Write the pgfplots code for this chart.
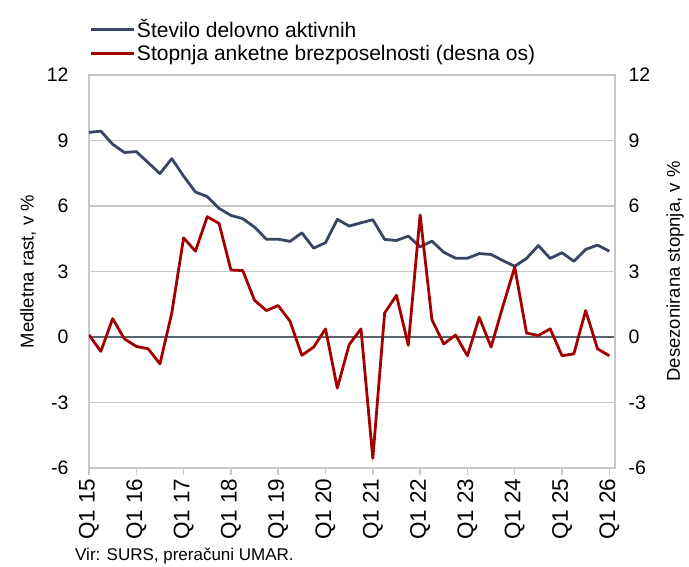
\documentclass[border=0pt]{standalone}
\usepackage{fontspec}
\setmainfont{Liberation Sans}
\usepackage{pgfplots}
\usepackage{pgfplotstable}
\pgfplotsset{compat=1.18}
\definecolor{empblue}{RGB}{56,70,100}
\definecolor{unred}{RGB}{165,0,0}
\definecolor{gridgray}{RGB}{200,200,200}
\definecolor{zerogray}{RGB}{90,100,110}
\pgfplotstableread{
x emp unemp
0 9.37 0.10
1 9.43 -0.66
2 8.83 0.84
3 8.45 -0.09
4 8.49 -0.43
5 7.99 -0.54
6 7.48 -1.23
7 8.17 1.10
8 7.37 4.54
9 6.64 3.93
10 6.43 5.51
11 5.89 5.20
12 5.57 3.07
13 5.42 3.04
14 5.03 1.68
15 4.48 1.21
16 4.48 1.44
17 4.38 0.72
18 4.77 -0.84
19 4.07 -0.46
20 4.32 0.37
21 5.39 -2.34
22 5.08 -0.35
23 5.23 0.37
24 5.37 -5.56
25 4.47 1.10
26 4.42 1.91
27 4.62 -0.38
28 4.13 5.59
29 4.39 0.79
30 3.88 -0.32
31 3.61 0.09
32 3.61 -0.86
33 3.82 0.90
34 3.78 -0.46
35 3.50 1.41
36 3.24 3.20
37 3.60 0.18
38 4.19 0.07
39 3.60 0.37
40 3.86 -0.86
41 3.47 -0.77
42 4.01 1.21
43 4.21 -0.54
44 3.93 -0.86
}\datatable
\begin{document}
\begin{tikzpicture}
\pgfplotsset{
  common/.style={
    scale only axis, width=526pt, height=393pt,
    xmin=0, xmax=44.48, ymin=-6, ymax=12,
    ytick={-6,-3,0,3,6,9,12},
    yticklabels={-6,-3,0,3,6,9,12},
    ytick style={draw=none},
    yticklabel style={font=\fontsize{19.5}{22}\selectfont},
    /pgf/number format/assume math mode=true,
  }
}
\begin{axis}[common, name=main,
  axis line style={draw=gridgray, line width=1.5pt},
  ymajorgrids, grid style={draw=gridgray, line width=1.5pt},
  xtick={0,4,...,44},
  xticklabels={Q1 15,Q1 16,Q1 17,Q1 18,Q1 19,Q1 20,Q1 21,Q1 22,Q1 23,Q1 24,Q1 25,Q1 26},
  xtick pos=lower, ytick pos=left,
  xtick style={draw=gridgray, line width=1.5pt},
  tick align=outside, major tick length=7pt,
  xticklabel style={rotate=90, anchor=east, font=\fontsize{22.5}{26}\selectfont},
  yticklabel style={xshift=-10pt},
  ylabel={Medletna rast, v \%},
  ylabel style={at={(axis description cs:-0.116,0.5)}, anchor=center, font=\fontsize{18.5}{22}\selectfont},
  legend image code/.code={\draw[#1] (0pt,0pt) -- (43pt,0pt);},
  legend style={at={(axis description cs:0,1)}, anchor=south west, xshift=0pt, yshift=11pt,
    draw=none, fill=none, inner sep=0pt, row sep=2pt,
    font=\fontsize{21}{24}\selectfont, cells={anchor=west}},
]
\addplot[draw=zerogray, line width=2pt, forget plot] coordinates {(0,0) (44.48,0)};
\addplot[empblue, line width=2.8pt, line join=round] table[x=x, y=emp] {\datatable};
\addlegendentry{Število delovno aktivnih}
\addlegendimage{unred, line width=2.8pt}
\addlegendentry{Stopnja anketne brezposelnosti (desna os)}
\end{axis}
\begin{axis}[common,
  axis x line=none, axis y line*=right,
  axis line style={draw=gridgray, line width=1.5pt},
  yticklabel style={xshift=10pt},
  ylabel={Desezonirana stopnja, v \%},
  ylabel style={at={(axis description cs:1.114,0.5)}, anchor=center, rotate=0, font=\fontsize{18.5}{22}\selectfont},
]
\addplot[unred, line width=2.8pt, line join=round] table[x=x, y=unemp] {\datatable};
\end{axis}
\node[anchor=west, font=\fontsize{17}{20}\selectfont, inner sep=0pt] at ([shift={(-14pt,-88pt)}]main.south west) {Vir: SURS, preračuni UMAR.};
\path[use as bounding box] ([shift={(-89pt,-99pt)}]main.south west) rectangle ([shift={(74pt,75pt)}]main.north east);
\end{tikzpicture}
\end{document}
